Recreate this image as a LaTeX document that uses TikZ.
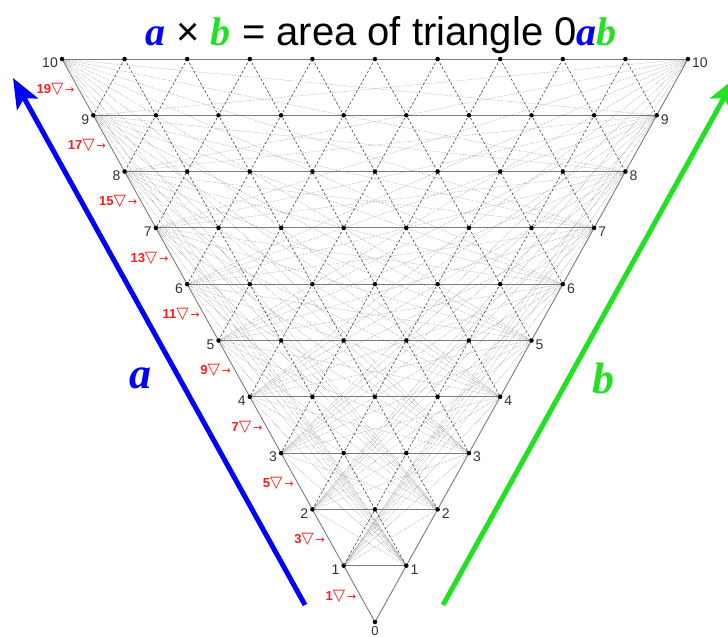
\documentclass[tikz,border=0pt]{standalone}
\usepackage{fontspec}
\setmainfont{Liberation Sans}
\newfontfamily\serifbi{Liberation Serif}
\newfontfamily\symfont{DejaVu Sans}
\usepackage{xcolor}
\usetikzlibrary{arrows.meta,calc}
\definecolor{Blue}{HTML}{0000FF}
\definecolor{Green}{HTML}{22E022}
\definecolor{Red}{HTML}{FF1A1A}
\definecolor{Grid}{HTML}{7A7A7A}
\definecolor{Dash}{HTML}{4A4A4A}
\definecolor{Num}{HTML}{333333}

\begin{document}
\begin{tikzpicture}[x=1pt,y=-1pt,
  chord/.style={draw=black!42,densely dotted,line width=0.5pt},
  level/.style={draw=Grid,line width=0.9pt},
  diag/.style={draw=Dash,line width=0.65pt,dash pattern=on 2.5pt off 2pt},
  dot/.style={circle,fill=black,inner sep=0pt,minimum size=4.5pt},
  num/.style={font=\fontsize{14}{16}\selectfont,text=Num,inner sep=1pt},
  count/.style={font=\fontsize{13}{15}\selectfont\bfseries,text=Red,inner sep=0pt},
  bigarrow/.style={line width=5pt,-{Stealth[length=30pt,width=24pt,inset=7pt]}},
  side/.style={font=\fontsize{44}{48}\selectfont\serifbi\bfseries\itshape}
]
\useasboundingbox (0,0) rectangle (728,637);

% lattice: level k, position j
\foreach \k in {0,...,10}{
  \foreach \j in {0,...,\k}{
    \coordinate (p-\k-\j) at ({375+(2*\j-\k)*31.3},{622-56.3*\k});
  }
}

% chords between the two sides
\foreach \a in {1,...,10}{
  \foreach \b in {1,...,10}{
    \ifnum\a=\b\else \draw[chord] (p-\a-0) -- (p-\b-\b); \fi
  }
}

% dashed lines parallel to the sides
\foreach \j in {1,...,9}{
  \pgfmathtruncatemacro\m{10-\j}
  \draw[diag] (p-10-\j) -- (p-\j-\j);
  \draw[diag] (p-10-\j) -- (p-\m-0);
}

% levels and sides
\foreach \k in {1,...,10}{
  \draw[level] (p-\k-0) -- (p-\k-\k);
}
\draw[level] (p-10-0) -- (p-0-0) -- (p-10-10);

% points
\foreach \k in {0,...,10}{
  \foreach \j in {0,...,\k}{
    \node[dot] at (p-\k-\j) {};
  }
}

% numbers on the sides
\foreach \k in {1,...,10}{
  \node[num,anchor=east] (l-\k) at ($(p-\k-0)+(-3,4)$) {\k};
  \node[num,anchor=west] (r-\k) at ($(p-\k-\k)+(3,4)$) {\k};
}
\node[num,anchor=base,font=\fontsize{13}{15}\selectfont] (l-0) at ($(p-0-0)+(0,13.5)$) {0};

% counts of small triangles per strip
\foreach \k in {0,...,9}{
  \pgfmathtruncatemacro\n{2*\k+1}
  \pgfmathtruncatemacro\kk{\k+1}
  \node[count,anchor=east] (c-\k) at ($(p-\k-0)!0.5!(p-\kk-0)+(-3,2)$)
    {\n{\symfont\mdseries\fontsize{16}{16}\selectfont ▽\fontsize{11}{15}\selectfont\,→}};
}

% side arrows
\coordinate (a-tail) at (305,605);
\coordinate (a-head) at (13,78);
\coordinate (b-tail) at (443,605);
\coordinate (b-head) at (735,78);
\draw[bigarrow,Blue] (a-tail) -- (a-head);
\draw[bigarrow,Green] (b-tail) -- (b-head);
\node[side,text=Blue] (a-label) at (140,378) {a};
\node[side,text=Green] (b-label) at (603,378) {b};

% title
\node[anchor=base,font=\fontsize{40}{44}\selectfont,inner sep=0pt] (title) at (381,45)
  {{\serifbi\bfseries\itshape\color{Blue}a} × {\serifbi\bfseries\itshape\color{Green}b} = area of triangle 0{\serifbi\bfseries\itshape\color{Blue}a}{\serifbi\bfseries\itshape\color{Green}b}};
\end{tikzpicture}
\end{document}
